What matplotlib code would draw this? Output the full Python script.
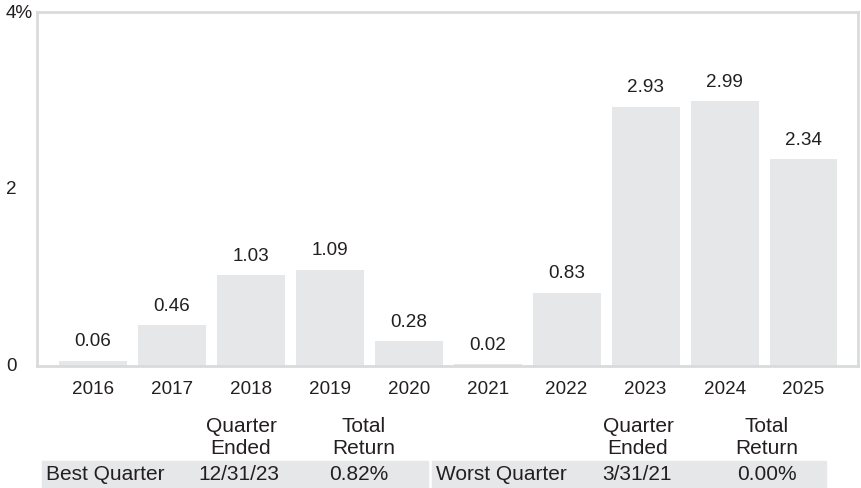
import matplotlib
matplotlib.use("Agg")
import matplotlib.pyplot as plt
import matplotlib.transforms as mtransforms
from matplotlib.patches import Rectangle

plt.rcParams['font.family'] = ['Liberation Sans', 'DejaVu Sans']

years = ["2016", "2017", "2018", "2019", "2020", "2021", "2022", "2023", "2024", "2025"]
returns = [0.06, 0.46, 1.03, 1.09, 0.28, 0.02, 0.83, 2.93, 2.99, 2.34]
value_labels = ["0.06", "0.46", "1.03", "1.09", "0.28", "0.02", "0.83", "2.93", "2.99", "2.34"]
y_ticks = [0, 2, 4]
y_tick_labels = ["0", "2", "4%"]

best_label = "Best Quarter"
best_date = "12/31/23"
best_return = "0.82%"
worst_label = "Worst Quarter"
worst_date = "3/31/21"
worst_return = "0.00%"
header_date = "Quarter\nEnded"
header_return = "Total\nReturn"

TEXT = "#231f20"
BAR = "#e6e7e8"
FRAME = "#d9dadb"

W, H = 862, 489
fig = plt.figure(figsize=(W / 100, H / 100), dpi=100)

def fx(px):
    return px / W

def fy(py):
    return 1 - py / H

ax = fig.add_axes([fx(36.7), fy(367), fx(858) - fx(36.7), fy(13) - fy(367)])
x = list(range(len(years)))
ax.bar(x, returns, width=0.86, color=BAR, zorder=2)
ax.set_xlim(-0.713, 9.69)
ax.set_ylim(0, 4)
ax.set_xticks(x)
ax.set_xticklabels(years, fontsize=13.6, color=TEXT)
ax.tick_params(axis='x', length=0, pad=10)
ax.set_yticks([])
for s in ax.spines.values():
    s.set_color(FRAME)
    s.set_linewidth(2)

for xi, v, lab in zip(x, returns, value_labels):
    ax.annotate(lab, (xi, v), xytext=(0, 14.2), textcoords='offset points',
                ha='center', va='center', fontsize=13.6, color=TEXT)

trans = mtransforms.blended_transform_factory(fig.transFigure, ax.transData)
for yv, lab in zip(y_ticks, y_tick_labels):
    ax.text(fx(6), yv, lab, transform=trans, ha='left', va='center',
            fontsize=13.6, color=TEXT, clip_on=False)

# Table bands
fig.patches.append(Rectangle((fx(42), fy(489)), fx(428) - fx(42), fy(462) - fy(489),
                             transform=fig.transFigure, color=BAR, zorder=0))
fig.patches.append(Rectangle((fx(432), fy(489)), fx(826) - fx(432), fy(462) - fy(489),
                             transform=fig.transFigure, color=BAR, zorder=0))

tfs = 15
def ftext(px, py, s, ha='center'):
    fig.text(fx(px), fy(py), s, ha=ha, va='center', fontsize=tfs, color=TEXT,
             linespacing=1.2)

ftext(241, 438, header_date)
ftext(364, 438, header_return)
ftext(638, 438, header_date)
ftext(767, 438, header_return)

ftext(46, 475, best_label, ha='left')
ftext(239, 475, best_date)
ftext(359, 475, best_return)
ftext(436, 475, worst_label, ha='left')
ftext(637.5, 475, worst_date)
ftext(766.5, 475, worst_return)

fig.savefig("out.png", dpi=100)
